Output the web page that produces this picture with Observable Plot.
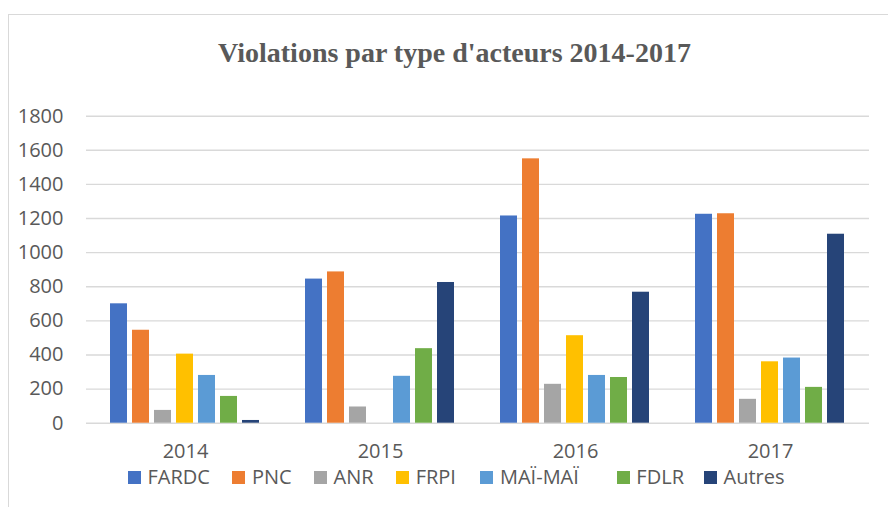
<!DOCTYPE html>
<html>
<head>
<meta charset="utf-8">
<script src="https://cdn.jsdelivr.net/npm/d3@7"></script>
<script src="https://cdn.jsdelivr.net/npm/@observablehq/plot@0.6"></script>
<style>
  html, body { margin: 0; padding: 0; background: #fff; }
  #root { position: relative; width: 888px; height: 507px; overflow: hidden; background: #fff; }
  #frame { position: absolute; left: 8px; top: 14px; width: 920px; height: 540px;
           border-left: 1.5px solid #d9d9d9; border-top: 1.5px solid #d9d9d9; }
  #title { position: absolute; left: 0; top: 36px; width: 909px; text-align: center;
           font-family: "Liberation Serif", "DejaVu Serif", serif; font-weight: bold;
           font-size: 28px; color: #595959; line-height: 34px; }
  .layer { position: absolute; left: 0; top: 0; }
  #legend { position: absolute; left: 128px; top: 470px; line-height: 14px; }
  div.lg-swatches, div.lg-swatches-wrap { min-height: 0 !important; line-height: 14px; }
  div.lg-swatches .lg-swatch { margin-right: 22.5px; line-height: 14px; }
  div.lg-swatches .lg-swatch:nth-of-type(4) { margin-right: 24.5px; }
  div.lg-swatches .lg-swatch:nth-of-type(5) { margin-right: 38px; }
  div.lg-swatches .lg-swatch:nth-of-type(6) { margin-right: 20px; }
  div.lg-swatches .lg-swatch > svg { margin-right: 6.5px; }
</style>
</head>
<body>
<div id="root">
  <div id="frame"></div>
  <div id="title">Violations par type d'acteurs 2014-2017</div>
  <div id="grid" class="layer"></div>
  <div id="bars" class="layer"></div>
  <div id="legend"></div>
</div>
<script>
const years = ["2014", "2015", "2016", "2017"];
const series = ["FARDC", "PNC", "ANR", "FRPI", "MAÏ-MAÏ", "FDLR", "Autres"];
const colors = ["#4472C4", "#ED7D31", "#A5A5A5", "#FFC000", "#5B9BD5", "#70AD47", "#264478"];
const v2014 = [700, 545, 75, 405, 280, 157, 16];
const v2015 = [845, 887, 95, 0, 275, 437, 825];
const v2016 = [1215, 1550, 228, 513, 280, 268, 768];
const v2017 = [1225, 1228, 140, 360, 382, 210, 1108];
const yTicks = [0, 200, 400, 600, 800, 1000, 1200, 1400, 1600, 1800];

const byYear = [v2014, v2015, v2016, v2017];
const data = years.flatMap((yr, i) => series.map((s, j) => ({year: yr, series: s, value: byYear[i][j]})));

const W = 888, H = 470;
const common = {
  width: W, height: H,
  marginLeft: 86, marginRight: 19, marginTop: 115.7, marginBottom: 47.3,
  style: {fontFamily: "'Open Sans', sans-serif", fontSize: "20px", color: "#595959", background: "transparent", overflow: "visible"}
};

const gridPlot = Plot.plot({
  ...common,
  y: {domain: [0, 1800], ticks: yTicks, tickSize: 0, tickPadding: 23, label: null, tickFormat: d => String(d)},
  marks: [
    Plot.ruleY(yTicks, {stroke: "#d9d9d9", strokeWidth: 1.4})
  ]
});
document.getElementById("grid").appendChild(gridPlot);

const barPlot = Plot.plot({
  ...common,
  fx: {domain: years, paddingInner: 0.1775, paddingOuter: 0.089, label: null, tickSize: 0, tickPadding: 21, axis: "bottom"},
  x: {domain: series, paddingInner: 0.22, paddingOuter: 0.11, axis: null},
  y: {domain: [0, 1800], axis: null},
  color: {domain: series, range: colors},
  marks: [
    Plot.barY(data, {fx: "year", x: "series", y: "value", fill: "series"})
  ]
});
document.getElementById("bars").appendChild(barPlot);

const legend = Plot.legend({
  color: {type: "ordinal", domain: series, range: colors},
  swatchSize: 13,
  className: "lg",
  style: {fontFamily: "'Open Sans', sans-serif", fontSize: "20px", color: "#595959", margin: "0"}
});
document.getElementById("legend").appendChild(legend);
</script>
</body>
</html>
